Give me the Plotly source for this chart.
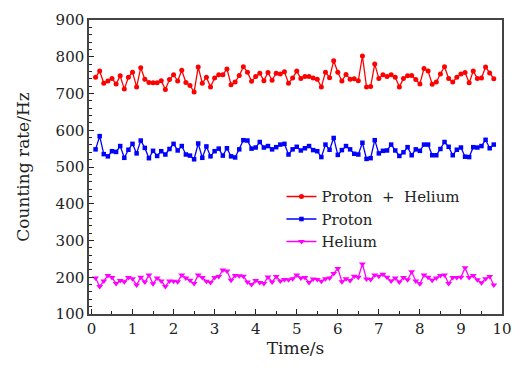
import numpy as np
import plotly.graph_objects as go

# Sampling times (s)
time_s = [round(0.1 * i, 1) for i in range(1, 99)]

# Counting rates (Hz)
proton_helium = [
    744, 761, 728, 734, 741, 726, 748, 712, 744, 758,
    718, 770, 739, 730, 729, 729, 735, 711, 738, 751,
    734, 763, 730, 722, 704, 772, 728, 744, 718, 742,
    751, 751, 767, 724, 731, 749, 773, 758, 733, 746,
    755, 735, 757, 736, 755, 753, 759, 728, 742, 761,
    741, 746, 746, 742, 739, 718, 758, 743, 789, 758,
    734, 752, 739, 740, 735, 802, 718, 719, 780, 741,
    751, 746, 751, 744, 718, 741, 748, 749, 738, 726,
    768, 761, 725, 731, 753, 773, 741, 731, 744, 753,
    757, 729, 761, 741, 742, 772, 756, 740,
]

proton = [
    548, 584, 535, 529, 543, 541, 557, 525, 547, 563,
    537, 572, 552, 524, 544, 530, 543, 534, 549, 563,
    545, 557, 534, 531, 521, 564, 525, 556, 529, 543,
    550, 531, 551, 529, 526, 548, 573, 572, 550, 553,
    568, 553, 557, 548, 554, 561, 563, 534, 548, 555,
    545, 551, 557, 546, 543, 527, 561, 547, 579, 533,
    546, 557, 548, 536, 534, 566, 522, 524, 573, 537,
    544, 545, 561, 545, 530, 540, 554, 532, 548, 544,
    561, 561, 532, 532, 549, 568, 555, 532, 547, 553,
    528, 527, 554, 553, 557, 574, 551, 561,
]

helium = [
    198, 175, 190, 205, 199, 183, 191, 188, 199, 196,
    179, 200, 187, 206, 182, 198, 190, 175, 190, 189,
    188, 206, 198, 192, 183, 206, 199, 189, 186, 199,
    202, 220, 217, 192, 205, 204, 203, 187, 180, 191,
    186, 183, 201, 187, 202, 190, 194, 193, 196, 206,
    198, 199, 186, 195, 194, 189, 196, 198, 210, 224,
    188, 196, 191, 203, 200, 236, 195, 194, 206, 203,
    208, 200, 190, 198, 187, 199, 193, 215, 190, 182,
    206, 200, 192, 198, 205, 206, 183, 199, 199, 200,
    226, 199, 205, 193, 185, 196, 202, 179,
]

x_ticks = list(range(0, 11))
y_ticks = list(range(100, 1000, 100))

FONT = "DejaVu Serif"

series = [
    ("Proton\u00a0\u00a0+\u00a0\u00a0Helium", proton_helium, "#ff0000", "circle", 5),
    ("Proton", proton, "#0000ff", "square", 4.5),
    ("Helium", helium, "#ff00ff", "triangle-down", 6),
]

fig = go.Figure()
for name, vals, color, symbol, msize in series:
    fig.add_trace(go.Scatter(
        x=time_s, y=vals, name=name, mode="lines+markers",
        line=dict(color=color, width=1.3),
        marker=dict(color=color, symbol=symbol, size=msize, line=dict(width=0)),
    ))

axis_common = dict(
    showgrid=False, zeroline=False,
    showline=True, mirror=True, linecolor="#444444", linewidth=1.5,
    ticks="inside", tickcolor="#222222",
    tickfont=dict(family=FONT, size=15, color="#222222"),
)

fig.update_xaxes(
    range=[-0.06, 10], tickvals=x_ticks, ticklen=5, tickwidth=1.2,
    minor=dict(dtick=0.5, ticks="inside", ticklen=3, tickcolor="#222222", tickwidth=1),
    title=dict(text="Time/s", font=dict(family=FONT, size=17, color="#222222"), standoff=4),
    **axis_common,
)
fig.update_yaxes(
    range=[100, 900], tickvals=y_ticks, ticklen=5, tickwidth=1.2,
    minor=dict(dtick=20, ticks="inside", ticklen=3, tickcolor="#222222", tickwidth=1),
    title=dict(text="Counting rate/Hz", font=dict(family=FONT, size=17, color="#222222"), standoff=22),
    **axis_common,
)

fig.update_layout(
    width=523, height=371,
    margin=dict(l=89, r=18, t=11, b=57),
    plot_bgcolor="white", paper_bgcolor="white",
    legend=dict(
        x=0.466, y=0.455, xanchor="left", yanchor="top",
        bgcolor="rgba(0,0,0,0)", borderwidth=0,
        font=dict(family=FONT, size=15, color="#222222"),
        tracegroupgap=0,
    ),
    showlegend=True,
)

fig.write_html("out.html")
